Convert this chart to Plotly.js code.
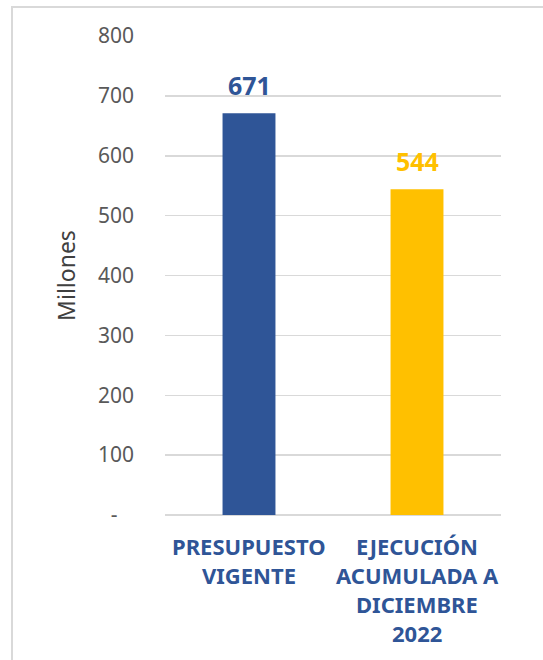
<!DOCTYPE html>
<html><head><meta charset="utf-8">
<script src="https://cdn.plot.ly/plotly-3.0.1.min.js"></script>
<style>
html,body{margin:0;padding:0;background:#fff;}
#frame{position:absolute;left:11px;top:6px;width:560px;height:700px;border:2px solid #d9d9d9;box-sizing:border-box;}
#chart{position:absolute;left:0;top:0;width:543px;height:660px;}
</style></head>
<body>
<div id="frame"></div>
<div id="chart"></div>
<script>
const categories = ["PRESUPUESTO\nVIGENTE", "EJECUCIÓN\nACUMULADA A\nDICIEMBRE\n2022"];
const values = [671, 544];
const barColors = ["#2F5597", "#FFC000"];
const tickVals = [0, 100, 200, 300, 400, 500, 600, 700, 800];
const tickText = ["-\u00a0\u00a0\u00a0", "100", "200", "300", "400", "500", "600", "700", "800"];

const catKeys = categories.map((c, i) => "c" + i);
const trace = {
  type: "bar",
  x: catKeys,
  y: values,
  width: 0.315,
  marker: {color: barColors},
  hoverinfo: "skip"
};

const annotations = [];
categories.forEach((c, i) => {
  c.split("\n").forEach((line, j) => {
    annotations.push({
      x: catKeys[i], xref: "x", y: 0, yref: "paper",
      yanchor: "middle", yshift: -31 - j * 29,
      text: line, showarrow: false,
      font: {family: "Noto Sans", size: 22, color: "#2F5597", weight: "bold"}
    });
  });
});
values.forEach((v, i) => {
  annotations.push({
    x: catKeys[i], xref: "x", y: v, yref: "y",
    yanchor: "middle", yshift: 28,
    text: String(v), showarrow: false,
    font: {family: "Noto Sans", size: 25, color: barColors[i], weight: "bold"}
  });
});

const layout = {
  width: 543, height: 660,
  margin: {l: 165, r: 42, t: 36, b: 145},
  paper_bgcolor: "rgba(0,0,0,0)",
  plot_bgcolor: "rgba(0,0,0,0)",
  showlegend: false,
  bargap: 0.685,
  xaxis: {
    showticklabels: false, showgrid: false, zeroline: false,
    showline: false, ticks: ""
  },
  yaxis: {
    range: [0, 800], tickvals: tickVals, ticktext: tickText,
    showgrid: true, gridcolor: "#d9d9d9", gridwidth: 1.5,
    zeroline: true, zerolinecolor: "#d9d9d9", zerolinewidth: 2,
    ticks: "", ticklabelstandoff: 30,
    tickfont: {family: "Noto Sans", size: 21, color: "#595959"},
    title: {text: "Millones", standoff: 15, font: {family: "Noto Sans", size: 23, color: "#404040"}},
    fixedrange: true
  },
  annotations: annotations
};

Plotly.newPlot("chart", [trace], layout, {displayModeBar: false, staticPlot: true});
</script>
</body></html>
